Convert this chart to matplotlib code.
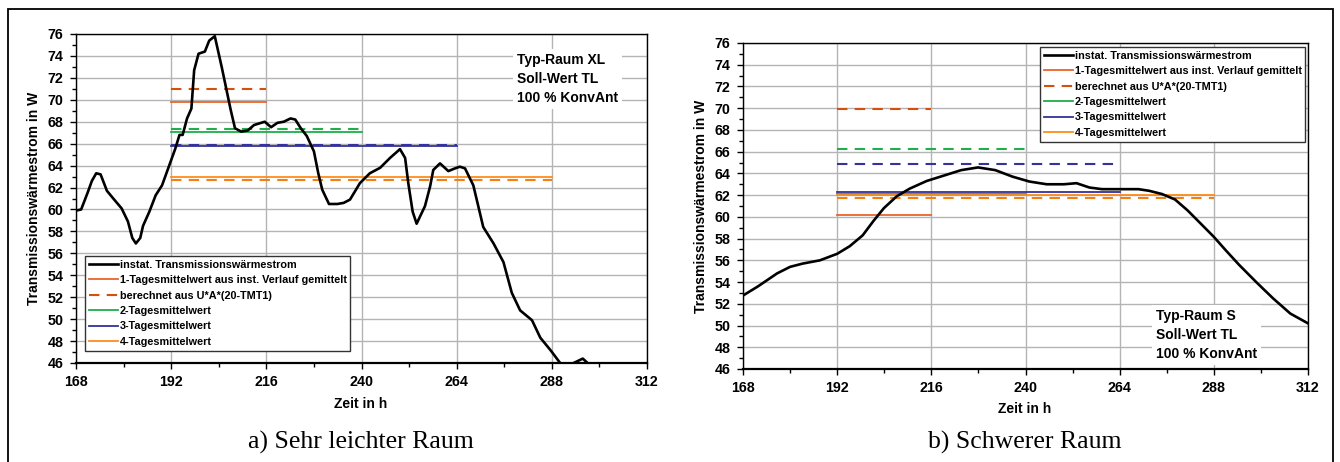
import matplotlib
matplotlib.use("Agg")
import matplotlib.pyplot as plt
from matplotlib.patches import Rectangle
from matplotlib.ticker import MultipleLocator

plt.rcParams['font.family'] = ['Liberation Sans', 'DejaVu Sans']
plt.rcParams['font.weight'] = 'bold'

# --- data: a) sehr leichter Raum ---
t_a = [168, 169.3, 170.9, 172, 173.1, 174.2, 175.8, 177.4, 179.5, 181.1, 182.2, 183.1,
       184.2, 184.9, 186.5, 188.1, 189.7, 191.4, 193, 194.1, 194.9, 196, 197.1, 197.8,
       198.9, 200.5, 201.6, 203, 204.8, 207, 208.1, 209.7, 211.3, 212.9, 215.6, 217.2,
       218.8, 220.4, 222.1, 223.3, 224.7, 226.2, 228, 229.1, 230.1, 231.8, 233.9, 235.5,
       237.1, 239.6, 242.1, 244.7, 247.2, 249.7, 251, 251.8, 252.9, 253.9, 256, 257.3,
       258.1, 259.8, 261.9, 263.6, 264.8, 266.1, 268.2, 270.7, 273.3, 275.8, 277.9, 280,
       283, 285.1, 287.6, 290.1, 291.8, 293.5, 295.8, 297.8]
q_a = [59.9, 60.0, 61.5, 62.6, 63.3, 63.2, 61.7, 61.0, 60.1, 58.9, 57.4, 56.9,
       57.4, 58.5, 59.8, 61.3, 62.2, 63.9, 65.5, 66.8, 66.8, 68.3, 69.2, 72.7,
       74.2, 74.4, 75.4, 75.8, 72.9, 69.1, 67.4, 67.1, 67.2, 67.7, 68.0, 67.5,
       67.9, 68.0, 68.3, 68.2, 67.4, 66.7, 65.3, 63.3, 61.8, 60.5, 60.5, 60.6,
       60.9, 62.4, 63.3, 63.8, 64.7, 65.5, 64.7, 62.4, 59.8, 58.7, 60.3, 62.1,
       63.6, 64.2, 63.5, 63.75, 63.9, 63.75, 62.2, 58.4, 56.9, 55.2, 52.4, 50.8,
       49.9, 48.3, 47.2, 46.0, 45.6, 46.0, 46.4, 45.75]
mean_a = [69.8, 67.06, 65.8, 63.0]      # 1-, 2-, 3-, 4-Tagesmittelwert
calc_a = [71.0, 67.3, 65.9, 62.65]      # berechnet aus U*A*(20-TMT1)

# --- data: b) schwerer Raum ---
t_b = [168, 171.8, 176.7, 180, 183.2, 187.6, 192, 195.2, 198.5, 201.2, 203.9, 207.2,
       210.5, 214.8, 219.2, 223.6, 227.9, 232.3, 236.7, 241, 245.4, 249.8, 253, 256.3,
       259.5, 263.9, 268.8, 271.5, 274.8, 278.1, 281.3, 284.6, 287.9, 291.1, 294.4,
       298.8, 303.1, 307.5, 312]
q_b = [52.76, 53.6, 54.8, 55.4, 55.7, 56.0, 56.6, 57.3, 58.3, 59.6, 60.8, 61.9,
       62.6, 63.3, 63.8, 64.3, 64.55, 64.3, 63.7, 63.25, 63.0, 63.0, 63.1, 62.7,
       62.55, 62.55, 62.55, 62.4, 62.1, 61.6, 60.6, 59.4, 58.2, 56.9, 55.6,
       54.0, 52.5, 51.1, 50.2]
mean_b = [60.2, 62.15, 62.33, 62.03]
calc_b = [69.95, 66.27, 64.9, 61.7]

days = [1, 2, 3, 4]
start = 192
mean_colors = ['#e8642c', '#1fae4b', '#333399', '#ff8c1a']
calc_colors = ['#d4500c', '#1fae4b', '#333399', '#f57f10']
labels = ['1-Tagesmittelwert aus inst. Verlauf gemittelt', '2-Tagesmittelwert',
          '3-Tagesmittelwert', '4-Tagesmittelwert']
note_a = "Typ-Raum XL\nSoll-Wert TL\n100 % KonvAnt"
note_b = "Typ-Raum S\nSoll-Wert TL\n100 % KonvAnt"

W, H = 1340, 462
fig = plt.figure(figsize=(W / 100, H / 100), dpi=100)

dash = (0, (5, 3.5))


def panel(rect, t, q, means, calcs, leg_anchor, note, note_xy, caption, cap_x, xlab_y):
    ax = fig.add_axes(rect)
    hblack, = ax.plot(t, q, color='black', lw=1.9, zorder=5)
    handles = {}
    for i, d in enumerate(days):
        h, = ax.plot([start, start + 24 * d], [means[i]] * 2, color=mean_colors[i], lw=1.3)
        handles[d] = h
    hc = None
    for i, d in enumerate(days):
        h, = ax.plot([start, start + 24 * d], [calcs[i]] * 2, color=calc_colors[i],
                     lw=1.5, linestyle=dash)
        if i == 0:
            hc = h
    ax.legend([hblack, handles[1], hc, handles[2], handles[3], handles[4]],
              ['instat. Transmissionswärmestrom', labels[0], 'berechnet aus U*A*(20-TMT1)',
               labels[1], labels[2], labels[3]],
              loc='upper left', bbox_to_anchor=leg_anchor, bbox_transform=fig.transFigure,
              fancybox=False, framealpha=1, edgecolor='#333333', fontsize=7.8,
              handlelength=2.7, handletextpad=0.15, labelspacing=0.5,
              borderpad=0.35, borderaxespad=0)
    ax.get_legend().get_frame().set_linewidth(1.0)

    ax.set_xlim(168, 312)
    ax.set_ylim(46, 76)
    ax.xaxis.set_major_locator(MultipleLocator(24))
    ax.xaxis.set_minor_locator(MultipleLocator(12))
    ax.yaxis.set_major_locator(MultipleLocator(2))
    ax.yaxis.set_minor_locator(MultipleLocator(1))
    ax.grid(True, which='major', color='#b4b4b4', lw=1.0, zorder=0)
    ax.set_axisbelow(True)
    ax.tick_params(which='major', length=4, width=1, labelsize=10.3, pad=5)
    ax.tick_params(which='minor', length=3, width=1)
    for s in ['top', 'right', 'left']:
        ax.spines[s].set_linewidth(1.0)
    ax.spines['bottom'].set_linewidth(1.6)
    ax.set_ylabel('Transmissionswärmestrom in W', fontsize=10, fontweight='bold', labelpad=5)
    ax.text(note_xy[0], note_xy[1], note, transform=fig.transFigure, fontsize=10,
            fontweight='bold', va='top', ha='left', linespacing=1.45,
            bbox=dict(facecolor='white', edgecolor='none', pad=3), zorder=4)
    fig.text(cap_x, xlab_y, 'Zeit in h', ha='center', va='center', fontsize=10, fontweight='bold')
    fig.text(cap_x, 1 - 442 / H, caption, ha='center', va='center', fontsize=18.5,
             family='Liberation Serif', fontweight='normal')
    return ax


panel([76 / W, 1 - 363 / H, 571 / W, 329 / H], t_a, q_a, mean_a, calc_a,
      (85 / W, 1 - 256 / H), note_a, (517 / W, 1 - 53 / H),
      'a) Sehr leichter Raum', 361 / W, 1 - 404 / H)
panel([743 / W, 1 - 369 / H, 565 / W, 326 / H], t_b, q_b, mean_b, calc_b,
      (1040 / W, 1 - 47 / H), note_b, (1156 / W, 1 - 309 / H),
      'b) Schwerer Raum', 1025 / W, 1 - 409 / H)

fig.add_artist(Rectangle((8 / W, -0.05), (1333 - 8) / W, (H - 9) / H + 0.05,
                         transform=fig.transFigure, fill=False, lw=1.3, ec='black'))

fig.savefig('out.png', dpi=100)
